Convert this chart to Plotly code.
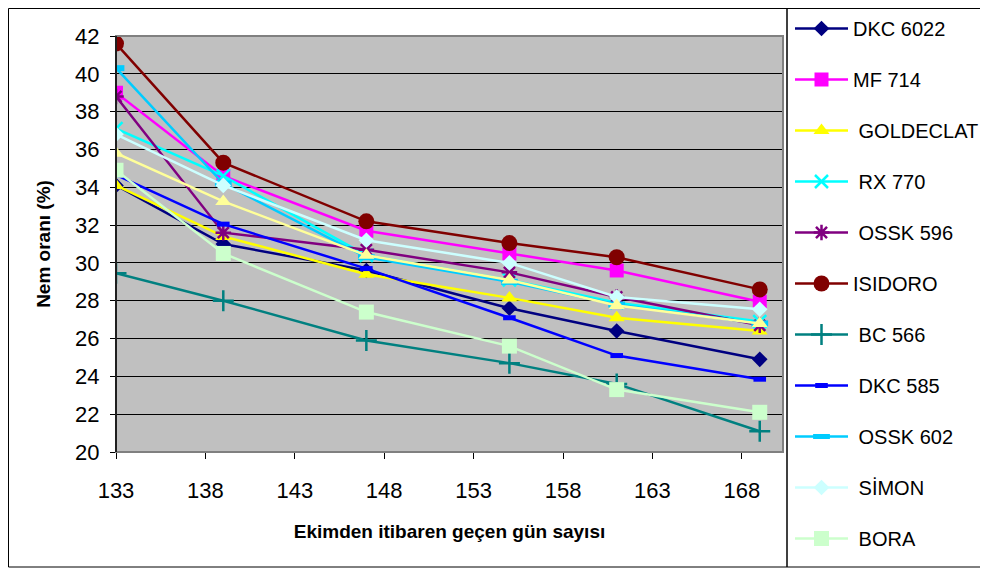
import plotly.graph_objects as go

days = [133, 139, 147, 155, 161, 169]

series_names = ["DKC 6022", "MF 714", " GOLDECLAT", " RX 770", " OSSK 596", "ISIDORO",
                " BC 566", " DKC 585", " OSSK 602", " SİMON", " BORA", "Seri 12"]

dkc_6022 = [34.1, 31.0, 29.6, 27.6, 26.4, 24.9]
mf_714 = [39.0, 34.6, 31.7, 30.5, 29.6, 27.95]
goldeclat = [34.1, 31.4, 29.4, 28.15, 27.1, 26.4]
rx_770 = [37.1, 34.6, 30.4, 29.1, 27.9, 26.9]
ossk_596 = [38.8, 31.6, 30.7, 29.5, 28.2, 26.7]
isidoro = [41.6, 35.3, 32.2, 31.05, 30.3, 28.6]
bc_566 = [29.45, 28.0, 25.9, 24.7, 23.6, 21.1]
dkc_585 = [34.65, 32.05, 29.7, 27.1, 25.1, 23.85]
ossk_602 = [40.3, 34.2, 30.3, 29.0, 27.8, 26.8]
simon = [36.8, 34.1, 31.2, 30.0, 28.2, 27.55]
bora = [34.9, 30.5, 27.4, 25.6, 23.3, 22.1]
seri_12 = [35.8, 33.25, 30.4, 29.1, 27.75, 26.8]

values = [dkc_6022, mf_714, goldeclat, rx_770, ossk_596, isidoro,
          bc_566, dkc_585, ossk_602, simon, bora, seri_12]

colors = ["#000080", "#FF00FF", "#FFFF00", "#00FFFF", "#800080", "#800000",
          "#008080", "#0000FF", "#00CCFF", "#CCFFFF", "#CCFFCC", "#FFFF99"]

markers = [
    dict(symbol="diamond", size=12),
    dict(symbol="square", size=14),
    dict(symbol="triangle-up", size=14),
    dict(symbol="x-thin-open", size=13, line=dict(width=2.5)),
    dict(symbol="asterisk-open", size=13, line=dict(width=2.5)),
    dict(symbol="circle", size=16),
    dict(symbol="cross-thin-open", size=15, line=dict(width=2.5)),
    dict(symbol="line-ew-open", size=9, line=dict(width=5)),
    dict(symbol="line-ew-open", size=12, line=dict(width=6)),
    dict(symbol="diamond", size=12),
    dict(symbol="square", size=15),
    dict(symbol="triangle-up", size=14),
]

fig = go.Figure()
for i, (name, vals, col, mk) in enumerate(zip(series_names, values, colors, markers)):
    m = dict(mk)
    m["color"] = col
    if "line" in m:
        m["line"] = dict(m["line"], color=col)
    fig.add_trace(go.Scatter(
        x=days, y=vals, name=name, mode="lines+markers",
        line=dict(color=col, width=2.5),
        marker=m, legendgroup=f"g{i}",
        showlegend=(i < 11),
    ))

# page body has an 8px default margin: work in screen pixels, convert to figure pixels
OFF = 8
W, H = 988 - OFF, 570 - OFF
L, R, T, B = 116 - OFF, 783 - OFF, 36 - OFF, 452 - OFF
pw, ph = R - L, B - T

def px(sx):
    return (sx - OFF - L) / pw

def py(sy):
    return (B - (sy - OFF)) / ph

font_family = "Liberation Sans, Arial, sans-serif"

fig.update_layout(
    width=W, height=H,
    margin=dict(l=L, r=W - R, t=T, b=H - B, autoexpand=False),
    paper_bgcolor="white",
    plot_bgcolor="#C0C0C0",
    font=dict(family=font_family, color="black"),
    showlegend=True,
    legend=dict(
        x=px(790), y=py(9), xanchor="left", yanchor="top",
        font=dict(size=20, family=font_family),
        bgcolor="rgba(255,255,255,0)", borderwidth=0,
        tracegroupgap=22, itemwidth=53,
        traceorder="grouped", maxheight=560,
    ),
    xaxis=dict(
        range=[133, 170.3], tickvals=[133, 138, 143, 148, 153, 158, 163, 168],
        showgrid=False, zeroline=False,
        showline=True, linecolor="black", linewidth=1,
        ticks="outside", ticklen=6, tickcolor="black",
        tickfont=dict(size=22), ticklabelstandoff=13,
        title=dict(text="<b>Ekimden itibaren geçen gün sayısı</b>",
                   font=dict(size=19), standoff=22),
    ),
    yaxis=dict(
        range=[20, 42], tickvals=list(range(20, 43, 2)),
        showgrid=True, gridcolor="black", gridwidth=1,
        zeroline=False,
        showline=True, linecolor="black", linewidth=1,
        ticks="outside", ticklen=5, tickcolor="black",
        tickfont=dict(size=22), ticklabelstandoff=6,
        title=dict(text="<b>Nem oranı (%)</b>", font=dict(size=19), standoff=19),
    ),
    shapes=[
        dict(type="rect", xref="paper", yref="paper", x0=0, x1=1, y0=0, y1=1,
             line=dict(color="#808080", width=2), layer="above"),
        dict(type="line", xref="paper", yref="paper", x0=0, x1=0, y0=0, y1=1,
             line=dict(color="black", width=1.5), layer="above"),
        dict(type="rect", xref="paper", yref="paper",
             x0=px(OFF + 0.5), x1=px(1000), y0=py(567), y1=py(OFF + 0.5),
             line=dict(color="black", width=1), layer="below"),
        dict(type="line", xref="paper", yref="paper",
             x0=px(787), x1=px(787), y0=py(567), y1=py(OFF),
             line=dict(color="black", width=1.5), layer="below"),
    ],
)

fig.write_html("out.html")
